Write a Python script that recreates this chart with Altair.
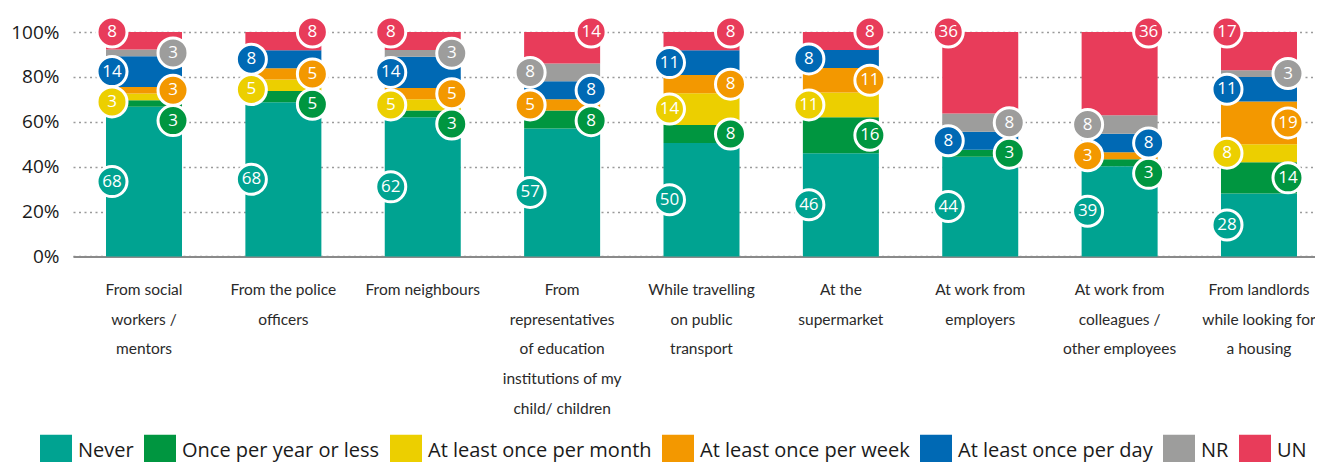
import altair as alt
import pandas as pd

categories = [
    "From social|workers /|mentors",
    "From the police|officers",
    "From neighbours",
    "From|representatives|of education|institutions of my|child/ children",
    "While travelling|on public|transport",
    "At the|supermarket",
    "At work from|employers",
    "At work from|colleagues /|other employees",
    "From landlords|while looking for|a housing",
]
series = ["Never", "Once per year or less", "At least once per month",
          "At least once per week", "At least once per day", "NR", "UN"]
colors = ["#00a391", "#009640", "#eccf00", "#f39800", "#0069b4", "#9d9d9c", "#e83c5a"]

never = [68, 68, 62, 57, 50, 46, 44, 39, 28]
once_year = [3, 5, 3, 8, 8, 16, 3, 3, 14]
per_month = [3, 5, 5, 0, 14, 11, 0, 0, 8]
per_week = [3, 5, 5, 5, 8, 11, 0, 3, 19]
per_day = [14, 8, 14, 8, 11, 8, 8, 8, 11]
nr = [3, 0, 3, 8, 0, 0, 8, 8, 3]
un = [8, 8, 8, 14, 8, 8, 36, 36, 17]

values = [never, once_year, per_month, per_week, per_day, nr, un]

FONT = "Open Sans"
XFONT = "Lato"
MIN_GAP = 13.5  # minimal label spacing in percent units

rows = []
for ci, cat in enumerate(categories):
    vals = [values[si][ci] for si in range(len(series))]
    total = sum(vals)
    cum = 0.0
    k = 0
    cat_rows = []
    for si, s in enumerate(series):
        v = vals[si]
        if v <= 0:
            continue
        pct = v / total * 100
        y0, y1 = cum, cum + pct
        cum = y1
        side = "L" if k % 2 == 0 else "R"
        k += 1
        mid = (y0 + y1) / 2
        if s == "UN":
            mid = 100.0
        cat_rows.append(dict(category=cat, series=s, value=v, y0=y0, y1=y1,
                             mid=mid, side=side, order=si))
    for sd in ("L", "R"):
        prev = None
        for r in sorted([r for r in cat_rows if r["side"] == sd], key=lambda r: -r["y1"]):
            ly = r["mid"] if prev is None else min(r["mid"], prev - MIN_GAP)
            r["ly"] = ly
            prev = ly
    rows.extend(cat_rows)

df = pd.DataFrame(rows)

color_scale = alt.Scale(domain=series, range=colors)
x_enc = alt.X("category:N", sort=categories, title=None,
              scale=alt.Scale(paddingInner=0.4547, paddingOuter=0.183, align=0.647),
              axis=alt.Axis(labelExpr="split(datum.label, '|')", labelAngle=0,
                            labelFontSize=15.5, labelLineHeight=29.8, labelColor="#2a2a2a",
                            labelFont=XFONT, ticks=False, domainColor="#8a8a8a",
                            domainWidth=2, labelPadding=26, labelLimit=220,
                            labelBaseline="top"))
y_scale = alt.Scale(domain=[0, 100], nice=False)

bars = alt.Chart(df).mark_bar().encode(
    x=x_enc,
    y=alt.Y("y0:Q", scale=y_scale, title=None,
            axis=alt.Axis(values=[0, 20, 40, 60, 80, 100], labelExpr="datum.value + '%'",
                          labelFontSize=19, labelColor="#1a1a1a", labelFont=FONT,
                          ticks=False, domain=False, labelPadding=14,
                          gridDash=[2, 3.5], gridColor="#9a9a9a", gridWidth=1.5)),
    y2="y1:Q",
    color=alt.Color("series:N", scale=color_scale, sort=series, title=None,
                    legend=alt.Legend(orient="none", legendX=-33, legendY=402.7,
                                      direction="horizontal", columns=7,
                                      symbolType="square", symbolSize=1024,
                                      symbolStrokeWidth=0, labelFontSize=20,
                                      labelFont=FONT, labelColor="#1a1a1a",
                                      labelOffset=6, columnPadding=10,
                                      labelLimit=300, padding=0)),
    order=alt.Order("order:Q"),
)

layers = [bars]
for sd, off in (("L", -32), ("R", 29)):
    base = alt.Chart(df).transform_filter(alt.datum.side == sd)
    circ = base.mark_point(filled=True, shape="circle", size=900, stroke="white",
                           strokeWidth=3, opacity=1, strokeOpacity=1, xOffset=off).encode(
        x=alt.X("category:N", sort=categories),
        y=alt.Y("ly:Q", scale=y_scale),
        color=alt.Color("series:N", scale=color_scale, legend=None),
    )
    txt = base.mark_text(color="white", fontSize=17, font=FONT, xOffset=off,
                         baseline="middle", align="center").encode(
        x=alt.X("category:N", sort=categories),
        y=alt.Y("ly:Q", scale=y_scale),
        text="value:Q",
    )
    layers += [circ, txt]

chart = alt.layer(*layers).properties(
    width=1242, height=224.4,
    padding={"left": 65, "top": 24, "right": 0, "bottom": 209.6},
    autosize=alt.AutoSizeParams(type="none"),
).configure_view(stroke=None).configure_axis(labelFont=FONT)

chart.save("out.html", embed_options={"renderer": "svg", "actions": False})
